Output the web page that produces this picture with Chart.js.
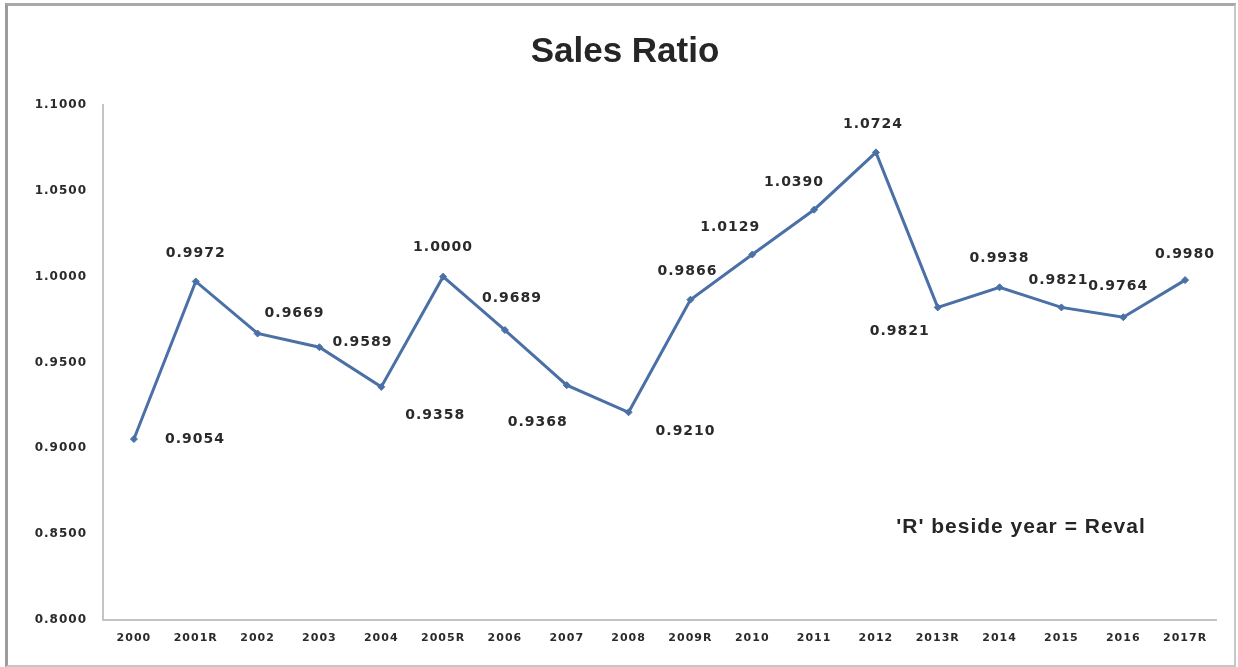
<!DOCTYPE html>
<html lang="en">
<head>
<meta charset="UTF-8">
<title>Sales Ratio</title>
<script src="https://cdn.jsdelivr.net/npm/chart.js"></script>
<style>
  html, body { margin: 0; padding: 0; background: #fff; }
  body { width: 1238px; height: 667px; position: relative; overflow: hidden; }
  /* worksheet-style frame around the chart */
  #frame {
    position: absolute; left: 5px; top: 3px; width: 1226px; height: 659px;
    border-left: 3px solid #9c9c9c; border-top: 3px solid #a9a9a9;
    border-right: 2px solid #c6c6c6; border-bottom: 2px solid #c6c6c6;
  }
  #salesRatioChart { position: absolute; left: 0; top: 0; }
</style>
</head>
<body>
<div id="frame"></div>
<canvas id="salesRatioChart" width="1238" height="667"></canvas>

<script>
  // Years ('R' = reval year) and the sales ratio for each
  const years = ['2000', '2001R', '2002', '2003', '2004', '2005R', '2006', '2007', '2008',
                 '2009R', '2010', '2011', '2012', '2013R', '2014', '2015', '2016', '2017R'];
  const salesRatio = [0.9054, 0.9972, 0.9669, 0.9589, 0.9358, 1.0000, 0.9689, 0.9368, 0.9210,
                      0.9866, 1.0129, 1.0390, 1.0724, 0.9821, 0.9938, 0.9821, 0.9764, 0.9980];
  const ratioTicks = [0.80, 0.85, 0.90, 0.95, 1.00, 1.05, 1.10];

  // where each value label sits relative to its point (px)
  const labelOffsets = [[61, 0], [0, -28], [37, -20], [43, -5], [54, 28], [0, -29],
                        [7, -32], [-29, 37], [57, 19], [-3, -28], [-22, -27], [-20, -27],
                        [-3, -28], [-38, 24], [0, -29], [-3, -27], [-5, -31], [0, -26]];

  const lineColor = '#4a70a6';
  const textColor = '#2a2a2a';

  const chartText = {
    id: 'chartText',
    beforeDraw(chart) {
      // axis labels are drawn slightly spaced out
      chart.ctx.letterSpacing = '1px';
    },
    afterDatasetsDraw(chart) {
      const ctx = chart.ctx;
      const meta = chart.getDatasetMeta(0);
      ctx.save();
      ctx.font = 'bold 14px "DejaVu Sans"';
      ctx.letterSpacing = '1px';
      ctx.fillStyle = textColor;
      ctx.textAlign = 'center';
      ctx.textBaseline = 'middle';
      meta.data.forEach((pt, i) => {
        const [dx, dy] = labelOffsets[i];
        ctx.fillText(salesRatio[i].toFixed(4), pt.x + dx, pt.y + dy);
      });
      ctx.restore();
    },
    afterDraw(chart) {
      const ctx = chart.ctx;
      ctx.save();
      ctx.letterSpacing = '0px';
      ctx.fillStyle = '#262626';
      ctx.textAlign = 'center';
      ctx.textBaseline = 'middle';
      ctx.font = 'bold 35px "Liberation Sans"';
      ctx.fillText('Sales Ratio', 625, 52);
      ctx.font = 'bold 21px "Liberation Sans"';
      ctx.letterSpacing = '1px';
      ctx.fillText("'R' beside year = Reval", 1021, 527);
      ctx.restore();
    }
  };

  new Chart(document.getElementById('salesRatioChart'), {
    type: 'line',
    data: {
      labels: years,
      datasets: [{
        label: 'Sales Ratio',
        data: salesRatio,
        borderColor: lineColor,
        backgroundColor: lineColor,
        borderWidth: 3,
        tension: 0,
        pointStyle: 'rectRot',
        pointRadius: 3.5,
        pointBorderWidth: 1
      }]
    },
    options: {
      responsive: false,
      animation: false,
      layout: { padding: { top: 105, left: 0, right: 22, bottom: 12 } },
      plugins: {
        legend: { display: false },
        tooltip: { enabled: false }
      },
      scales: {
        x: {
          offset: true,
          grid: { display: false, drawTicks: false },
          border: { display: true, color: '#c4c4c4', width: 2 },
          ticks: {
            color: textColor,
            font: { family: 'DejaVu Sans', size: 11, weight: 'bold' },
            padding: 12,
            maxRotation: 0,
            autoSkip: false
          },
          afterFit(scale) { scale.height = 35; }
        },
        y: {
          min: 0.8,
          max: 1.1,
          grid: { display: false, drawTicks: false },
          border: { display: true, color: '#c4c4c4', width: 2 },
          afterBuildTicks(scale) {
            scale.ticks = ratioTicks.map(v => ({ value: v }));
          },
          ticks: {
            color: textColor,
            font: { family: 'DejaVu Sans', size: 12, weight: 'bold' },
            padding: 16,
            callback: v => Number(v).toFixed(4)
          },
          afterFit(scale) { scale.width = 103; }
        }
      }
    },
    plugins: [chartText]
  });
</script>
</body>
</html>
